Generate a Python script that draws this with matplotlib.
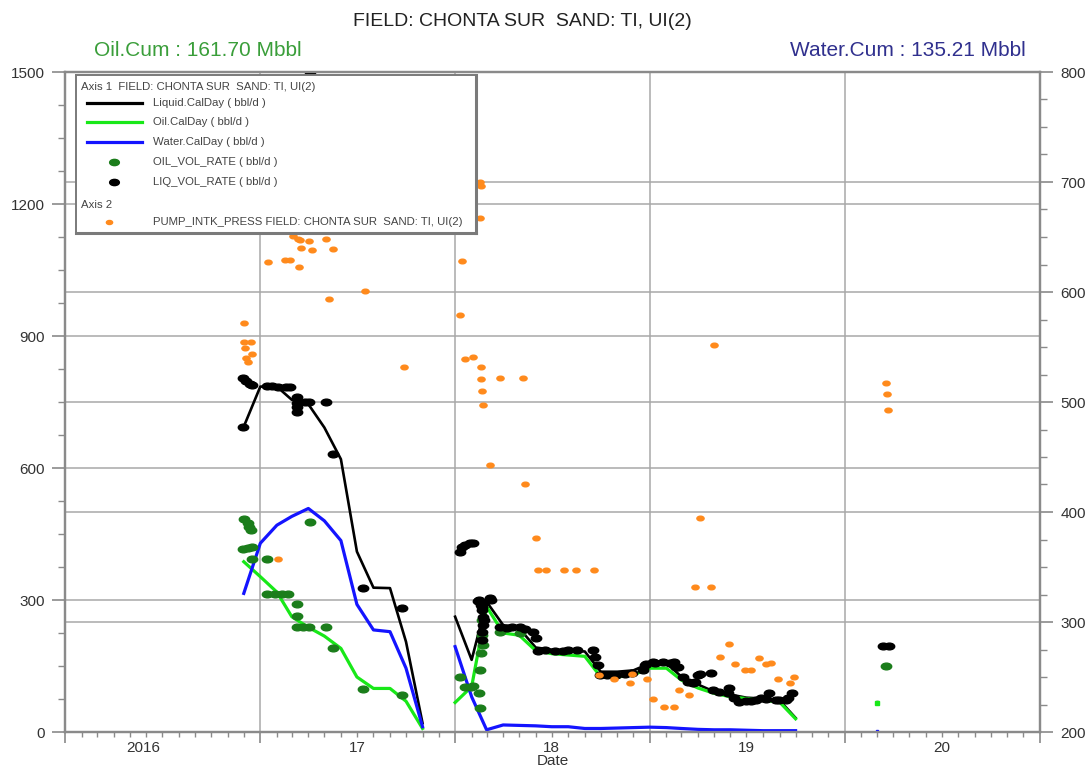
import numpy as np
import matplotlib
matplotlib.use('Agg')
import matplotlib.pyplot as plt
import matplotlib.dates as mdates
from matplotlib.path import Path
from matplotlib.transforms import Affine2D, blended_transform_factory

plt.rcParams['font.family'] = ['Liberation Sans', 'DejaVu Sans']

# ---- monthly calendar-day rates (left axis, bbl/d) ----
calday_dates_1 = ['2016-12-01', '2017-01-01', '2017-02-01', '2017-03-01', '2017-04-01', '2017-05-01',
                  '2017-06-01', '2017-07-01', '2017-08-01', '2017-09-01', '2017-10-01', '2017-11-01']
liquid_1 = [694, 785, 785, 755, 745, 692, 620, 410, 328, 327, 205, 20]
oil_1 = [387, 353, 318, 262, 238, 218, 190, 125, 99, 99, 70, 8]
water_1 = [315, 429, 470, 490, 508, 480, 435, 290, 232, 228, 145, 12]

calday_dates_2 = ['2018-01-01', '2018-02-01', '2018-03-01', '2018-04-01', '2018-05-01', '2018-06-01',
                  '2018-07-01', '2018-08-01', '2018-09-01', '2018-10-01', '2018-11-01', '2018-12-01',
                  '2019-01-01', '2019-02-01', '2019-03-01', '2019-04-01', '2019-05-01', '2019-06-01',
                  '2019-07-01', '2019-08-01', '2019-09-01', '2019-10-01']
liquid_2 = [262, 164, 296, 243, 236, 192, 187, 185, 183, 137, 137, 140,
            156, 156, 126, 108, 92, 85, 78, 76, 72, 32]
oil_2 = [67, 103, 285, 225, 220, 185, 178, 175, 172, 125, 125, 130,
         145, 145, 118, 100, 88, 80, 76, 72, 68, 30]
water_2 = [194, 80, 5, 16, 15, 14, 12, 12, 8, 8, 9, 10,
           11, 10, 8, 6, 5, 5, 4, 3, 3, 3]

calday_dates_3 = ['2020-03-01']
liquid_3 = [68]
oil_3 = [65]
water_3 = [3]

# ---- well tests (left axis) ----
oil_test_dates = ['2016-12-02', '2016-12-08', '2016-12-11', '2016-12-14', '2016-11-30', '2016-12-08',
                  '2016-12-17', '2016-12-17', '2017-01-13', '2017-01-13', '2017-01-29', '2017-02-10',
                  '2017-02-22', '2017-03-10', '2017-03-11', '2017-03-11', '2017-03-22', '2017-04-03',
                  '2017-04-04', '2017-05-05', '2017-05-17', '2017-07-12', '2017-09-24',
                  '2018-01-10', '2018-01-19', '2018-01-31', '2018-02-04', '2018-02-15', '2018-02-16',
                  '2018-02-16', '2018-02-19', '2018-02-21', '2018-02-21', '2018-02-22', '2018-03-26',
                  '2018-05-02', '2020-03-19']
oil_test = [483, 476, 467, 459, 416, 418, 420, 393, 393, 314, 314, 314,
            314, 290, 264, 239, 239, 239, 477, 239, 190, 97, 84,
            126, 103, 103, 105, 88, 54, 141, 179, 220, 255, 198, 228,
            224, 151]

liq_test_dates = ['2016-11-30', '2016-12-05', '2016-12-12', '2016-12-17', '2016-11-30', '2017-01-13',
                  '2017-01-22', '2017-02-04', '2017-02-19', '2017-02-25', '2017-03-10', '2017-03-11',
                  '2017-03-11', '2017-03-11', '2017-03-25', '2017-04-03', '2017-04-05', '2017-05-05',
                  '2017-05-17', '2017-07-12', '2017-09-24',
                  '2018-01-10', '2018-01-13', '2018-01-19', '2018-01-29', '2018-02-04', '2018-02-13',
                  '2018-02-15', '2018-02-18', '2018-02-22', '2018-02-21', '2018-02-21', '2018-02-24',
                  '2018-02-22', '2018-02-21', '2018-02-20', '2018-02-22', '2018-03-07', '2018-03-10',
                  '2018-03-26', '2018-04-08', '2018-04-17', '2018-05-02', '2018-05-12', '2018-05-27',
                  '2018-06-02', '2018-06-05', '2018-06-18', '2018-07-07', '2018-07-23', '2018-08-01',
                  '2018-08-17', '2018-09-17', '2018-09-20', '2018-09-26', '2018-09-29', '2018-10-12',
                  '2018-10-24', '2018-10-30', '2018-11-15', '2018-11-28', '2018-12-19', '2018-12-22',
                  '2018-12-25', '2019-01-07', '2019-01-10', '2019-01-26', '2019-02-07', '2019-02-16',
                  '2019-02-19', '2019-02-22', '2019-03-04', '2019-03-13', '2019-03-22', '2019-03-26',
                  '2019-04-01', '2019-04-04', '2019-04-26', '2019-04-29', '2019-05-11', '2019-05-27',
                  '2019-05-30', '2019-06-08', '2019-06-17', '2019-06-30', '2019-07-09', '2019-07-19',
                  '2019-07-28', '2019-08-06', '2019-08-12', '2019-08-25', '2019-08-31', '2019-09-13',
                  '2019-09-16', '2019-09-25', '2020-03-12', '2020-03-24']
liq_test = [804, 798, 792, 789, 694, 786, 786, 785, 785, 783, 762, 748,
            739, 728, 751, 751, 1500, 751, 631, 327, 281,
            410, 421, 425, 429, 430, 298, 300, 289, 293, 285, 277, 255,
            243, 228, 209, 262, 304, 301, 239, 236, 238, 239, 233, 228,
            213, 183, 186, 183, 184, 186, 186, 186, 171, 152, 130, 130,
            130, 130, 131, 133, 141, 152, 155, 158, 156, 158, 156, 158,
            148, 148, 126, 114, 111, 114, 130, 131, 133, 95, 92, 88,
            99, 77, 69, 71, 71, 73, 77, 74, 88, 73, 73, 73,
            77, 88, 195, 195]

# ---- pump intake pressure (right axis, psi) ----
pip_dates = ['2016-12-02', '2016-12-02', '2016-12-15', '2016-12-04', '2016-12-17', '2016-12-06',
             '2016-12-09', '2017-01-16', '2017-02-16', '2017-02-25', '2017-03-14', '2017-03-04',
             '2017-03-13', '2017-03-16', '2017-04-03', '2017-05-04', '2017-03-18', '2017-04-07',
             '2017-05-17', '2017-07-17', '2017-05-10', '2017-09-27', '2017-02-04',
             '2018-02-16', '2018-02-18', '2018-02-17', '2018-01-13', '2018-01-11', '2018-01-19',
             '2018-02-04', '2018-02-19', '2018-02-19', '2018-03-26', '2018-05-08', '2018-02-21',
             '2018-02-22', '2018-03-07', '2018-05-12', '2018-06-01', '2018-06-05', '2018-06-21',
             '2018-07-24', '2018-08-16', '2018-09-18', '2018-09-28', '2018-10-26', '2018-11-24',
             '2018-11-29', '2018-12-27',
             '2019-01-07', '2019-01-28', '2019-02-16', '2019-02-24', '2019-03-16', '2019-03-27',
             '2019-04-26', '2019-04-04', '2019-05-01', '2019-05-13', '2019-05-30', '2019-06-10',
             '2019-06-29', '2019-07-09', '2019-07-24', '2019-08-07', '2019-08-16', '2019-08-29',
             '2019-09-20', '2019-09-28', '2020-03-19', '2020-03-21', '2020-03-22']
pip = [572, 555, 555, 549, 544, 540, 536, 627, 629, 629, 623, 651,
       648, 647, 646, 648, 640, 638, 639, 601, 594, 532, 357,
       700, 696, 667, 628, 579, 539, 541, 532, 521, 522, 522, 510,
       497, 443, 425, 376, 347, 347, 347, 347, 347, 252, 248, 245,
       253, 248,
       230, 223, 223, 238, 234, 332, 332, 395, 552, 268, 280, 262,
       256, 256, 267, 262, 263, 248, 245, 250, 517, 507, 493]

years = [2016, 2017, 2018, 2019, 2020]
year_labels = ['2016', '17', '18', '19', '20']


def d(lst):
    return np.array(lst, dtype='datetime64[D]')


# ellipse-shaped marker like the original
ellipse = Path.unit_circle().transformed(Affine2D().scale(1.55, 1.0))

fig = plt.figure(figsize=(10.91, 7.74), dpi=100)
W, H = 1091, 774
ax = fig.add_axes([65 / W, 1 - 732 / H, 975 / W, 660 / H])
ax2 = ax.twinx()

lime = '#18e818'
dkgreen = '#1b7d1b'
blue = '#1414ff'
orange = '#ff8a1c'
gridc = '#a8a8a8'

for dts, liq, oil, wat in [(calday_dates_1, liquid_1, oil_1, water_1),
                           (calday_dates_2, liquid_2, oil_2, water_2),
                           (calday_dates_3, liquid_3, oil_3, water_3)]:
    x = d(dts)
    mk = 's' if len(dts) == 1 else None
    ax.plot(x, liq, color='black', lw=1.9, zorder=3, marker=mk, ms=2)
    ax.plot(x, oil, color=lime, lw=2.3, zorder=4, marker=mk, ms=2.5, mec=lime)
    ax.plot(x, wat, color=blue, lw=2.3, zorder=5, marker=mk, ms=2, mec=blue)

ax.plot(d(oil_test_dates), oil_test, ls='none', marker=ellipse, ms=7.5,
        color=dkgreen, mec=dkgreen, zorder=6)
ax.plot(d(liq_test_dates), liq_test, ls='none', marker=ellipse, ms=7.5,
        color='black', zorder=7)
ax2.plot(d(pip_dates), pip, ls='none', marker=ellipse, ms=5.2,
         color=orange, mec=orange, zorder=8)

# axes limits and ticks
ax.set_xlim(np.datetime64('2016-01-01'), np.datetime64('2021-01-01'))
ax.set_ylim(0, 1500)
ax2.set_ylim(200, 800)
ax.set_yticks(np.arange(0, 1501, 300))
ax.set_yticks(np.arange(0, 1501, 75), minor=True)
ax2.set_yticks(np.arange(200, 801, 100))
ax2.set_yticks(np.arange(200, 801, 25), minor=True)
ax.xaxis.set_major_locator(mdates.YearLocator())
ax.xaxis.set_minor_locator(mdates.MonthLocator())
ax.xaxis.set_major_formatter(plt.NullFormatter())

for a in (ax, ax2):
    for s in a.spines.values():
        s.set_color('#8a8a8a')
        s.set_linewidth(1.6)
    a.tick_params(which='major', length=9.5, width=1.2, color='#8a8a8a',
                  labelsize=11, labelcolor='#333333', pad=5)
    a.tick_params(which='minor', length=5, width=1.0, color='#8a8a8a')
ax.tick_params(axis='x', which='major', length=8)
ax.tick_params(axis='x', which='minor', length=3.5)

# grid: years, left major, right major
ax.grid(axis='x', which='major', color=gridc, lw=1.1, zorder=0)
ax.grid(axis='y', which='major', color=gridc, lw=1.1, zorder=0)
btr = blended_transform_factory(ax.transAxes, ax2.transData)
for v in np.arange(300, 800, 100):
    ax.plot([0, 1], [v, v], transform=btr, color=gridc, lw=1.1, zorder=0)
ax.set_axisbelow(True)

# year labels centred in each year
ltr = blended_transform_factory(ax.transData, ax.transAxes)
for yr, lab in zip(years, year_labels):
    mid = np.datetime64(f'{yr}-07-01')
    if yr == years[0]:
        mid = mid - np.timedelta64(36, 'D')
    ax.text(mid, -0.013, lab, transform=ltr, ha='center', va='top',
            fontsize=11, color='#333333')
ax.set_xlabel('Date', fontsize=11, color='#333333', labelpad=3)

# titles
fig.text(522 / W, 1 - 22 / H, 'FIELD: CHONTA SUR  SAND: TI, UI(2)', ha='center', va='center',
         fontsize=14, color='#222222')
fig.text(94 / W, 1 - 50 / H, 'Oil.Cum : 161.70 Mbbl', ha='left', va='center',
         fontsize=15, color='#3a9e3a')
fig.text(1026 / W, 1 - 50 / H, 'Water.Cum : 135.21 Mbbl', ha='right', va='center',
         fontsize=15, color='#30308e')

# legend box
lg = fig.add_axes([76 / W, 1 - 233 / H, 400 / W, 158 / H], zorder=20)
lg.set_xlim(0, 400)
lg.set_ylim(158, 0)
lg.set_xticks([])
lg.set_yticks([])
for s in lg.spines.values():
    s.set_color('#7a7a7a')
    s.set_linewidth(1.4)
lg.spines['right'].set_linewidth(2.2)
lg.spines['bottom'].set_linewidth(2.2)
txtc = '#444444'
fs = 8.2
lg.text(5, 12, 'Axis 1  FIELD: CHONTA SUR  SAND: TI, UI(2)', fontsize=fs, color=txtc, va='center')
rows = [(28, 'Liquid.CalDay ( bbl/d )', 'line', 'black'),
        (47, 'Oil.CalDay ( bbl/d )', 'line', lime),
        (67, 'Water.CalDay ( bbl/d )', 'line', blue),
        (87, 'OIL_VOL_RATE ( bbl/d )', 'dot', dkgreen),
        (107, 'LIQ_VOL_RATE ( bbl/d )', 'dot', 'black'),
        (147, 'PUMP_INTK_PRESS FIELD: CHONTA SUR  SAND: TI, UI(2)', 'small', orange)]
for yy, lab, kind, col in rows:
    if kind == 'line':
        lg.plot([11, 66], [yy, yy], color=col, lw=2.3)
    elif kind == 'dot':
        lg.plot([38], [yy], marker=ellipse, ms=7, color=col, mec=col)
    else:
        lg.plot([33], [yy], marker=ellipse, ms=4.5, color=col, mec=col)
    lg.text(77, yy, lab, fontsize=fs, color=txtc, va='center')
lg.text(5, 130, 'Axis 2', fontsize=fs, color=txtc, va='center')

fig.savefig('out.png', dpi=100)
